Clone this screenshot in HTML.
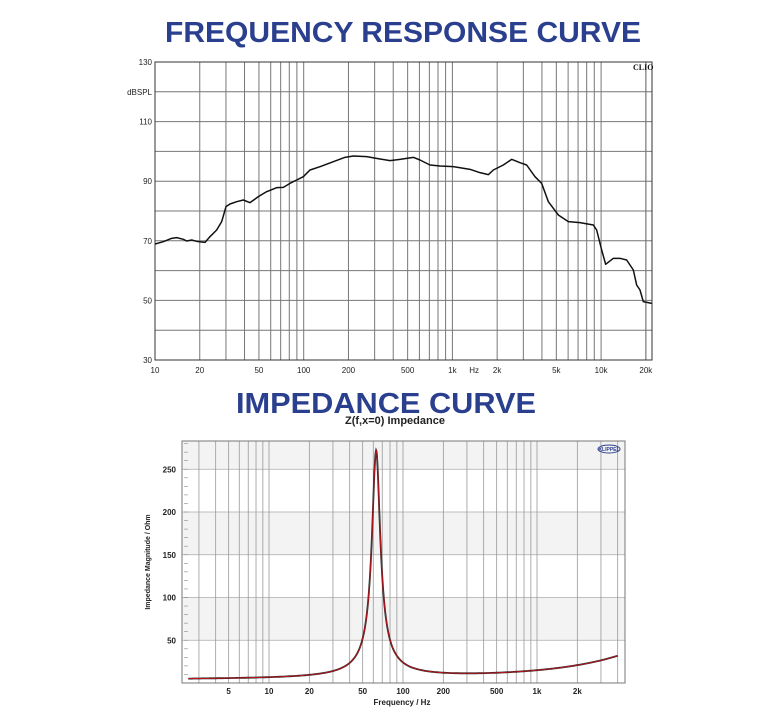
<!DOCTYPE html>
<html><head><meta charset="utf-8"><style>
html,body{margin:0;padding:0;background:#fff}
svg{display:block}
</style></head><body>
<svg id="s" width="761" height="714" viewBox="0 0 761 714" xmlns="http://www.w3.org/2000/svg" font-family="Liberation Sans, sans-serif">
<text x="165" y="42" font-size="29" font-weight="bold" fill="#2b3f8f" textLength="476" lengthAdjust="spacingAndGlyphs">FREQUENCY RESPONSE CURVE</text>
<text x="236" y="413" font-size="29" font-weight="bold" fill="#2b3f8f" textLength="300" lengthAdjust="spacingAndGlyphs">IMPEDANCE CURVE</text>
<g id="top"></g>
<g id="bot"></g>
<g transform="translate(140,50) scale(0.33333)">
<path fill="none" stroke="#111" stroke-width="4.5" stroke-linejoin="round" d="M45,582 L70,575 95,565 110,563 130,568 140,573 155,570 170,574 195,577 210,560 230,540 245,515 258,470 270,462 290,455 310,450 330,458 355,440 380,425 410,413 430,412 450,400 470,390 490,380 510,360 540,350 580,335 615,322 640,318 680,320 720,327 750,332 780,328 800,325 820,322 840,330 870,345 900,348 940,350 990,358 1020,368 1045,374 1060,360 1090,345 1115,328 1140,338 1160,345 1185,380 1205,400 1225,455 1240,475 1255,495 1285,515 1320,518 1360,525 1370,540 1385,600 1397,643 1420,625 1440,625 1460,630 1480,660 1490,705 1500,720 1510,755 1535,760"/>
</g>
<text x="633" y="70" font-size="8" font-weight="bold" font-family="Liberation Serif, serif" fill="#111">CLIO</text>
<text x="395" y="424" font-size="11" fill="#222" text-anchor="middle" font-weight="bold">Z(f,x=0) Impedance</text>
<text x="402" y="705" font-size="8" fill="#222" text-anchor="middle" font-weight="bold">Frequency / Hz</text>
<text transform="translate(150,562) rotate(-90)" font-size="7" fill="#222" text-anchor="middle" font-weight="bold">Impedance Magnitude / Ohm</text>
<ellipse cx="609" cy="449" rx="11" ry="4" fill="none" stroke="#2b3f8f" stroke-width="1"/>
<text x="609" y="451" font-size="5" fill="#2b3f8f" text-anchor="middle" font-weight="bold">KLIPPEL</text>
</svg>
<script>
var NS="http://www.w3.org/2000/svg";
function el(p,t,a,txt){var e=document.createElementNS(NS,t);for(var k in a)e.setAttribute(k,a[k]);if(txt!=null)e.textContent=txt;p.appendChild(e);return e;}
var T=document.getElementById('top');
var x0=155,x1=652,y0=62,y1=360,ppd=148.7;
function tx(f){return x0+Math.log10(f/10)*ppd;}
function ty(d){return y1-(d-30)*2.98;}
for(var d=30;d<=130;d+=10){el(T,'line',{x1:x0,x2:x1,y1:ty(d),y2:ty(d),stroke:'#777','stroke-width':1});}
var fs=[];for(var dec=10;dec<=10000;dec*=10)for(var m=1;m<10;m++){var f=dec*m;if(tx(f)<=x1+0.5)fs.push(f);}
fs.push(20000);
fs.forEach(function(f){el(T,'line',{x1:tx(f),x2:tx(f),y1:y0,y2:y1,stroke:'#777','stroke-width':1});});
el(T,'rect',{x:x0,y:y0,width:x1-x0,height:y1-y0,fill:'none',stroke:'#333','stroke-width':1});
[130,110,90,70,50,30].forEach(function(d){el(T,'text',{x:x0-3,y:ty(d)+3,'font-size':8,'text-anchor':'end',fill:'#222'},String(d));});
el(T,'text',{x:x0-3,y:ty(120)+3,'font-size':8,'text-anchor':'end',fill:'#222'},'dBSPL');
[[10,'10'],[20,'20'],[50,'50'],[100,'100'],[200,'200'],[500,'500'],[1000,'1k'],[2000,'2k'],[5000,'5k'],[10000,'10k'],[20000,'20k']].forEach(function(a){el(T,'text',{x:tx(a[0]),y:373,'font-size':8,'text-anchor':'middle',fill:'#222'},a[1]);});
el(T,'text',{x:tx(1400),y:373,'font-size':8,'text-anchor':'middle',fill:'#222'},'Hz');
var B=document.getElementById('bot');
var bx0=182,bx1=625,by0=441,by1=683,bp=134;
function bxf(f){return 269+Math.log10(f/10)*bp;}
function byf(z){return by1-z*0.855;}
var bands=[[250,283,'#f3f3f3'],[150,200,'#f3f3f3'],[50,100,'#f3f3f3']];
bands.forEach(function(b){el(B,'rect',{x:bx0,y:byf(b[1]),width:bx1-bx0,height:byf(b[0])-byf(b[1]),fill:b[2]});});
[50,100,150,200,250].forEach(function(z){el(B,'line',{x1:bx0,x2:bx1,y1:byf(z),y2:byf(z),stroke:'#aaa','stroke-width':0.8});
el(B,'text',{x:bx0-6,y:byf(z)+3,'font-size':8,'text-anchor':'end',fill:'#222','font-weight':'bold'},String(z));});
for(var z=10;z<283;z+=10){el(B,'line',{x1:bx0+2,x2:bx0+6,y1:byf(z),y2:byf(z),stroke:'#888','stroke-width':0.6});}
for(var dec=1;dec<=1000;dec*=10)for(var m=1;m<10;m++){var f=dec*m;var X=bxf(f);if(X>bx0+1&&X<bx1-1)el(B,'line',{x1:X,x2:X,y1:by0,y2:by1,stroke:'#999','stroke-width':0.8});}
el(B,'rect',{x:bx0,y:by0,width:bx1-bx0,height:by1-by0,fill:'none',stroke:'#777','stroke-width':1});
[[5,'5'],[10,'10'],[20,'20'],[50,'50'],[100,'100'],[200,'200'],[500,'500'],[1000,'1k'],[2000,'2k']].forEach(function(a){el(B,'text',{x:bxf(a[0]),y:694,'font-size':8,'text-anchor':'middle',fill:'#222','font-weight':'bold'},a[1]);});
var pts=[];
for(var lf=Math.log10(2.5);lf<=Math.log10(4000);lf+=0.003){var f=Math.pow(10,lf);
var base=5+1.2*Math.log10(f/2.5)+23*Math.pow(f/4000,0.9);
var r=f/63-63/f;var Z=base+265/Math.pow(1+44*r*r,0.75);
pts.push(bxf(f).toFixed(1)+','+byf(Z).toFixed(1));}
el(B,'polyline',{points:pts.join(' '),fill:'none',stroke:'#222','stroke-width':1.8});
el(B,'polyline',{points:pts.join(' '),fill:'none',stroke:'#c0141c','stroke-width':0.9});
</script>
</body></html>
